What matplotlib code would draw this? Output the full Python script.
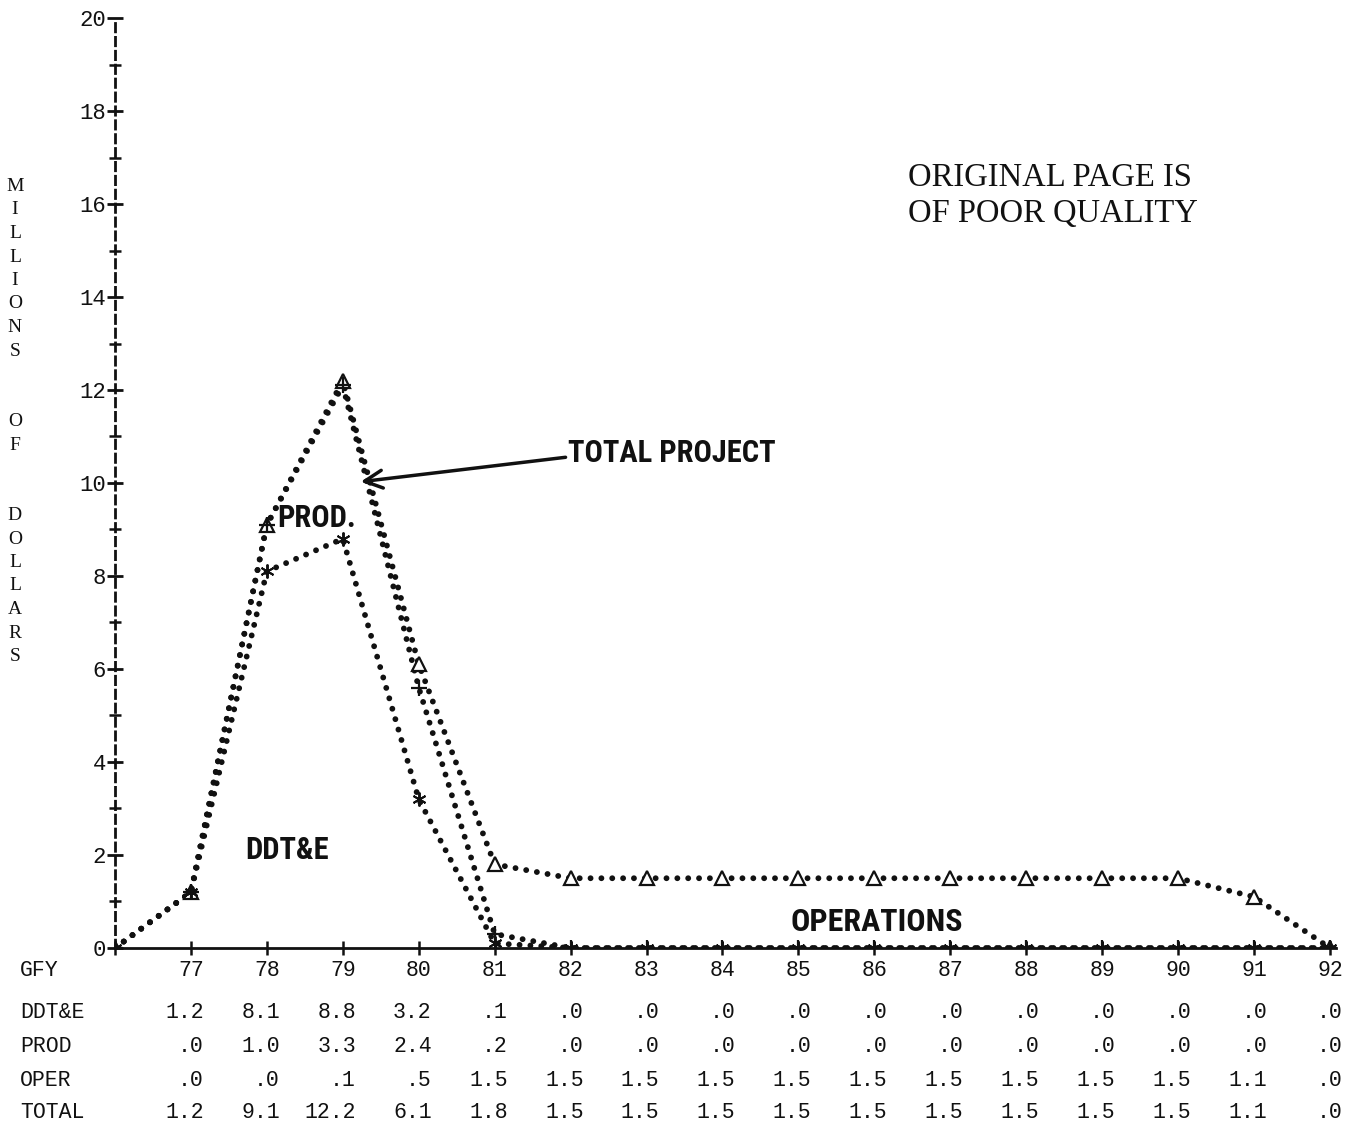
"""
Project funding profile - printout style line chart with data table.
"""

import matplotlib
matplotlib.use("Agg")
import matplotlib.pyplot as plt
import matplotlib.transforms as mtransforms
from matplotlib import font_manager
from matplotlib.ticker import MultipleLocator

# Data (millions of dollars per fiscal year)
years = [77, 78, 79, 80, 81, 82, 83, 84, 85, 86, 87, 88, 89, 90, 91, 92]
ddte = [1.2, 8.1, 8.8, 3.2, 0.1, 0.0, 0.0, 0.0, 0.0, 0.0, 0.0, 0.0, 0.0, 0.0, 0.0, 0.0]
prod = [0.0, 1.0, 3.3, 2.4, 0.2, 0.0, 0.0, 0.0, 0.0, 0.0, 0.0, 0.0, 0.0, 0.0, 0.0, 0.0]
oper = [0.0, 0.0, 0.1, 0.5, 1.5, 1.5, 1.5, 1.5, 1.5, 1.5, 1.5, 1.5, 1.5, 1.5, 1.1, 0.0]
total = [1.2, 9.1, 12.2, 6.1, 1.8, 1.5, 1.5, 1.5, 1.5, 1.5, 1.5, 1.5, 1.5, 1.5, 1.1, 0.0]
start_year = 76  # curves start at zero on the y axis
y_ticks = list(range(0, 21, 2))

row_labels = ["GFY", "DDT&E", "PROD", "OPER", "TOTAL"]
y_label = "MILLIONS  OF  DOLLARS"

INK = "#111111"
MONO = ["Liberation Mono", "DejaVu Sans Mono"]
SERIF = ["Liberation Serif", "DejaVu Serif"]

# look for a condensed sans for the hand-lettered labels
names = {f.name for f in font_manager.fontManager.ttflist}
narrow = None
for cand in ("Liberation Sans Narrow", "DejaVu Sans Condensed", "Roboto Condensed",
             "Open Sans Condensed"):
    if cand in names:
        narrow = cand
        break
if narrow is None:
    LABEL_FONT = dict(family="DejaVu Sans", fontstretch="condensed", fontweight="bold")
    condensed_ok = any(f.name == "DejaVu Sans" and f.stretch == "condensed"
                       for f in font_manager.fontManager.ttflist)
else:
    LABEL_FONT = dict(family=narrow, fontweight="bold")
    condensed_ok = True
LABEL_SIZE = 22 if condensed_ok else 18


def fmt(v):
    s = f"{v:.1f}"
    return s[1:] if s.startswith("0") else s


fig = plt.figure(figsize=(13.59, 11.26), dpi=100)
ax = fig.add_axes([0.0846, 0.1581, 0.8985, 0.8259])

xs = [start_year] + years
ddt_curve = [0.0] + ddte
dp_curve = [0.0] + [d + p for d, p in zip(ddte, prod)]
tot_curve = [0.0] + total

dots = dict(color=INK, lw=4.2, ls=(0, (0.01, 1.85)), dash_capstyle="round", zorder=3)
for curve in (ddt_curve, dp_curve, tot_curve):
    ax.plot(xs, curve, **dots)

ax.plot(xs, tot_curve, ls="none", marker="^", ms=10, mfc="white", mec=INK, mew=1.6, zorder=4)
ax.plot(xs, dp_curve, ls="none", marker="+", ms=12, mec=INK, mew=1.6, zorder=4)
ax.plot(xs, ddt_curve, ls="none", marker=(6, 2, 0), ms=10, mec=INK, mew=1.4, zorder=4)

ax.set_xlim(start_year, 92.08)
ax.set_ylim(0, 20)

# axes in printer style
for side in ("top", "right"):
    ax.spines[side].set_visible(False)
ax.spines["left"].set_linestyle((0, (3, 2)))
ax.spines["left"].set_linewidth(2)
ax.spines["bottom"].set_linewidth(2)
ax.spines["left"].set_color(INK)
ax.spines["bottom"].set_color(INK)

ax.set_yticks(y_ticks)
ax.set_yticklabels([str(t) for t in y_ticks], family=MONO, fontsize=16, color=INK)
ax.yaxis.set_minor_locator(MultipleLocator(1))
ax.tick_params(axis="y", which="major", direction="inout", length=11, width=2, pad=1, color=INK)
ax.tick_params(axis="y", which="minor", direction="inout", length=9, width=1.8, color=INK)
ax.set_xticks(xs)
ax.set_xticklabels([])
ax.tick_params(axis="x", direction="inout", length=10, width=1.8, color=INK)

# stacked y label
fig.text(0.011, 1 - 178 / 1126, "\n".join(y_label), family=SERIF, fontsize=14,
         color=INK, ha="center", va="top", linespacing=1.5)

# curve annotations
ax.text(78.66, 9.25, "PROD.", fontsize=LABEL_SIZE, color=INK, ha="center", va="center",
        **LABEL_FONT)
ax.text(78.27, 2.11, "DDT&E", fontsize=LABEL_SIZE, color=INK, ha="center", va="center",
        **LABEL_FONT)
ax.text(86.03, 0.56, "OPERATIONS", fontsize=LABEL_SIZE + 1, color=INK, ha="center",
        va="center", **LABEL_FONT)
ax.text(81.97, 10.65, "TOTAL PROJECT", fontsize=LABEL_SIZE, color=INK, ha="left",
        va="center", **LABEL_FONT)
ax.annotate("", xy=(79.2, 10.02), xytext=(81.97, 10.56),
            arrowprops=dict(arrowstyle="->", lw=2.5, color=INK, mutation_scale=32))

fig.text(0.668, 1 - 163 / 1126, "ORIGINAL PAGE IS\nOF POOR QUALITY", family=SERIF,
         fontsize=23.5, color=INK, ha="left", va="top", linespacing=1.2)

# data table under the plot
row_y = [970, 1012, 1046, 1080, 1113]
rows = [[str(y) for y in years],
        [fmt(v) for v in ddte],
        [fmt(v) for v in prod],
        [fmt(v) for v in oper],
        [fmt(v) for v in total]]
col_trans = mtransforms.offset_copy(
    mtransforms.blended_transform_factory(ax.transData, fig.transFigure),
    fig=fig, x=0.13, y=0, units="inches")
for label, py, cells in zip(row_labels, row_y, rows):
    fy = 1 - py / 1126
    fig.text(20 / 1359, fy, label, family=MONO, fontsize=15.5, color=INK, ha="left",
             va="center")
    for yr, cell in zip(years, cells):
        ax.text(yr, fy, cell, transform=col_trans, family=MONO, fontsize=15.5,
                color=INK, ha="right", va="center", clip_on=False)

fig.savefig("out.png", dpi=100, facecolor="white")
plt.close(fig)
